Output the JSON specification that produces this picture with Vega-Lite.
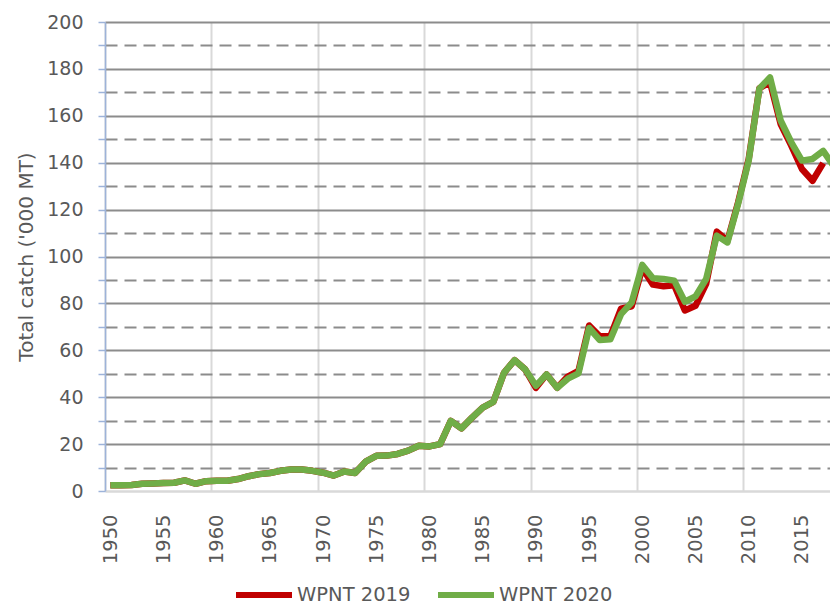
{
  "$schema": "https://vega.github.io/schema/vega-lite/v6.json",
  "autosize": "none",
  "width": 725,
  "height": 469,
  "padding": {"left": 105, "top": 22, "right": 0, "bottom": 114},
  "background": "white",
  "config": {
    "font": "DejaVu Sans",
    "view": {"stroke": null}
  },
  "data": {
    "values": [
      {"year": 1950, "series": "WPNT 2019", "catch": 2.5},
      {"year": 1951, "series": "WPNT 2019", "catch": 2.5},
      {"year": 1952, "series": "WPNT 2019", "catch": 2.6},
      {"year": 1953, "series": "WPNT 2019", "catch": 3.1},
      {"year": 1954, "series": "WPNT 2019", "catch": 3.2},
      {"year": 1955, "series": "WPNT 2019", "catch": 3.4},
      {"year": 1956, "series": "WPNT 2019", "catch": 3.5},
      {"year": 1957, "series": "WPNT 2019", "catch": 4.5},
      {"year": 1958, "series": "WPNT 2019", "catch": 3.1},
      {"year": 1959, "series": "WPNT 2019", "catch": 4.2},
      {"year": 1960, "series": "WPNT 2019", "catch": 4.4},
      {"year": 1961, "series": "WPNT 2019", "catch": 4.4},
      {"year": 1962, "series": "WPNT 2019", "catch": 5.1},
      {"year": 1963, "series": "WPNT 2019", "catch": 6.3},
      {"year": 1964, "series": "WPNT 2019", "catch": 7.2},
      {"year": 1965, "series": "WPNT 2019", "catch": 7.7},
      {"year": 1966, "series": "WPNT 2019", "catch": 8.6},
      {"year": 1967, "series": "WPNT 2019", "catch": 9.2},
      {"year": 1968, "series": "WPNT 2019", "catch": 9.2},
      {"year": 1969, "series": "WPNT 2019", "catch": 8.6},
      {"year": 1970, "series": "WPNT 2019", "catch": 7.8},
      {"year": 1971, "series": "WPNT 2019", "catch": 6.6},
      {"year": 1972, "series": "WPNT 2019", "catch": 8.3},
      {"year": 1973, "series": "WPNT 2019", "catch": 7.7},
      {"year": 1974, "series": "WPNT 2019", "catch": 12.5},
      {"year": 1975, "series": "WPNT 2019", "catch": 15.0},
      {"year": 1976, "series": "WPNT 2019", "catch": 15.1},
      {"year": 1977, "series": "WPNT 2019", "catch": 15.8},
      {"year": 1978, "series": "WPNT 2019", "catch": 17.2},
      {"year": 1979, "series": "WPNT 2019", "catch": 19.3},
      {"year": 1980, "series": "WPNT 2019", "catch": 19.0},
      {"year": 1981, "series": "WPNT 2019", "catch": 20.0},
      {"year": 1982, "series": "WPNT 2019", "catch": 29.9},
      {"year": 1983, "series": "WPNT 2019", "catch": 26.7},
      {"year": 1984, "series": "WPNT 2019", "catch": 31.3},
      {"year": 1985, "series": "WPNT 2019", "catch": 35.6},
      {"year": 1986, "series": "WPNT 2019", "catch": 38.0},
      {"year": 1987, "series": "WPNT 2019", "catch": 50.4},
      {"year": 1988, "series": "WPNT 2019", "catch": 55.8},
      {"year": 1989, "series": "WPNT 2019", "catch": 51.8},
      {"year": 1990, "series": "WPNT 2019", "catch": 44.0},
      {"year": 1991, "series": "WPNT 2019", "catch": 49.7},
      {"year": 1992, "series": "WPNT 2019", "catch": 44.0},
      {"year": 1993, "series": "WPNT 2019", "catch": 48.8},
      {"year": 1994, "series": "WPNT 2019", "catch": 51.2},
      {"year": 1995, "series": "WPNT 2019", "catch": 70.6},
      {"year": 1996, "series": "WPNT 2019", "catch": 66.0},
      {"year": 1997, "series": "WPNT 2019", "catch": 66.0},
      {"year": 1998, "series": "WPNT 2019", "catch": 77.8},
      {"year": 1999, "series": "WPNT 2019", "catch": 78.8},
      {"year": 2000, "series": "WPNT 2019", "catch": 95.0},
      {"year": 2001, "series": "WPNT 2019", "catch": 88.0},
      {"year": 2002, "series": "WPNT 2019", "catch": 87.3},
      {"year": 2003, "series": "WPNT 2019", "catch": 87.7},
      {"year": 2004, "series": "WPNT 2019", "catch": 77.0},
      {"year": 2005, "series": "WPNT 2019", "catch": 79.0},
      {"year": 2006, "series": "WPNT 2019", "catch": 88.3},
      {"year": 2007, "series": "WPNT 2019", "catch": 110.6},
      {"year": 2008, "series": "WPNT 2019", "catch": 106.7},
      {"year": 2009, "series": "WPNT 2019", "catch": 123.0},
      {"year": 2010, "series": "WPNT 2019", "catch": 141.6},
      {"year": 2011, "series": "WPNT 2019", "catch": 171.7},
      {"year": 2012, "series": "WPNT 2019", "catch": 174.3},
      {"year": 2013, "series": "WPNT 2019", "catch": 156.5},
      {"year": 2014, "series": "WPNT 2019", "catch": 147.3},
      {"year": 2015, "series": "WPNT 2019", "catch": 137.3},
      {"year": 2016, "series": "WPNT 2019", "catch": 132.3},
      {"year": 2017, "series": "WPNT 2019", "catch": 139.8},
      {"year": 1950, "series": "WPNT 2020", "catch": 2.5},
      {"year": 1951, "series": "WPNT 2020", "catch": 2.5},
      {"year": 1952, "series": "WPNT 2020", "catch": 2.6},
      {"year": 1953, "series": "WPNT 2020", "catch": 3.1},
      {"year": 1954, "series": "WPNT 2020", "catch": 3.2},
      {"year": 1955, "series": "WPNT 2020", "catch": 3.4},
      {"year": 1956, "series": "WPNT 2020", "catch": 3.5},
      {"year": 1957, "series": "WPNT 2020", "catch": 4.5},
      {"year": 1958, "series": "WPNT 2020", "catch": 3.1},
      {"year": 1959, "series": "WPNT 2020", "catch": 4.2},
      {"year": 1960, "series": "WPNT 2020", "catch": 4.4},
      {"year": 1961, "series": "WPNT 2020", "catch": 4.4},
      {"year": 1962, "series": "WPNT 2020", "catch": 5.1},
      {"year": 1963, "series": "WPNT 2020", "catch": 6.3},
      {"year": 1964, "series": "WPNT 2020", "catch": 7.2},
      {"year": 1965, "series": "WPNT 2020", "catch": 7.7},
      {"year": 1966, "series": "WPNT 2020", "catch": 8.6},
      {"year": 1967, "series": "WPNT 2020", "catch": 9.2},
      {"year": 1968, "series": "WPNT 2020", "catch": 9.2},
      {"year": 1969, "series": "WPNT 2020", "catch": 8.6},
      {"year": 1970, "series": "WPNT 2020", "catch": 7.8},
      {"year": 1971, "series": "WPNT 2020", "catch": 6.6},
      {"year": 1972, "series": "WPNT 2020", "catch": 8.3},
      {"year": 1973, "series": "WPNT 2020", "catch": 7.7},
      {"year": 1974, "series": "WPNT 2020", "catch": 12.5},
      {"year": 1975, "series": "WPNT 2020", "catch": 15.0},
      {"year": 1976, "series": "WPNT 2020", "catch": 15.1},
      {"year": 1977, "series": "WPNT 2020", "catch": 15.8},
      {"year": 1978, "series": "WPNT 2020", "catch": 17.2},
      {"year": 1979, "series": "WPNT 2020", "catch": 19.3},
      {"year": 1980, "series": "WPNT 2020", "catch": 19.0},
      {"year": 1981, "series": "WPNT 2020", "catch": 20.0},
      {"year": 1982, "series": "WPNT 2020", "catch": 29.9},
      {"year": 1983, "series": "WPNT 2020", "catch": 26.7},
      {"year": 1984, "series": "WPNT 2020", "catch": 31.3},
      {"year": 1985, "series": "WPNT 2020", "catch": 35.6},
      {"year": 1986, "series": "WPNT 2020", "catch": 38.0},
      {"year": 1987, "series": "WPNT 2020", "catch": 50.4},
      {"year": 1988, "series": "WPNT 2020", "catch": 55.8},
      {"year": 1989, "series": "WPNT 2020", "catch": 51.8},
      {"year": 1990, "series": "WPNT 2020", "catch": 44.9},
      {"year": 1991, "series": "WPNT 2020", "catch": 49.7},
      {"year": 1992, "series": "WPNT 2020", "catch": 44.0},
      {"year": 1993, "series": "WPNT 2020", "catch": 47.9},
      {"year": 1994, "series": "WPNT 2020", "catch": 50.2},
      {"year": 1995, "series": "WPNT 2020", "catch": 69.5},
      {"year": 1996, "series": "WPNT 2020", "catch": 64.4},
      {"year": 1997, "series": "WPNT 2020", "catch": 64.7},
      {"year": 1998, "series": "WPNT 2020", "catch": 75.4},
      {"year": 1999, "series": "WPNT 2020", "catch": 80.4},
      {"year": 2000, "series": "WPNT 2020", "catch": 96.4},
      {"year": 2001, "series": "WPNT 2020", "catch": 90.7},
      {"year": 2002, "series": "WPNT 2020", "catch": 90.4},
      {"year": 2003, "series": "WPNT 2020", "catch": 89.7},
      {"year": 2004, "series": "WPNT 2020", "catch": 80.7},
      {"year": 2005, "series": "WPNT 2020", "catch": 83.0},
      {"year": 2006, "series": "WPNT 2020", "catch": 90.4},
      {"year": 2007, "series": "WPNT 2020", "catch": 108.9},
      {"year": 2008, "series": "WPNT 2020", "catch": 106.0},
      {"year": 2009, "series": "WPNT 2020", "catch": 122.4},
      {"year": 2010, "series": "WPNT 2020", "catch": 140.9},
      {"year": 2011, "series": "WPNT 2020", "catch": 171.5},
      {"year": 2012, "series": "WPNT 2020", "catch": 176.4},
      {"year": 2013, "series": "WPNT 2020", "catch": 158.0},
      {"year": 2014, "series": "WPNT 2020", "catch": 148.7},
      {"year": 2015, "series": "WPNT 2020", "catch": 140.9},
      {"year": 2016, "series": "WPNT 2020", "catch": 141.6},
      {"year": 2017, "series": "WPNT 2020", "catch": 145.0},
      {"year": 2018, "series": "WPNT 2020", "catch": 138.5}
    ]
  },
  "mark": {"type": "line", "strokeWidth": 6.5, "strokeJoin": "round", "clip": true},
  "encoding": {
    "x": {
      "field": "year",
      "type": "quantitative",
      "scale": {"domain": [1949.5, 2017.64], "nice": false, "zero": false},
      "axis": {
        "title": null,
        "values": [1950, 1955, 1960, 1965, 1970, 1975, 1980, 1985, 1990, 1995, 2000, 2005, 2010, 2015],
        "format": "d",
        "labelAngle": -90,
        "labelAlign": "right",
        "labelBaseline": "middle",
        "labelFontSize": 19.5,
        "labelColor": "#595959",
        "labelPadding": 23,
        "ticks": false,
        "tickSize": 0,
        "tickOffset": -5.32,
        "labelOffset": 5.32,
        "labelOverlap": false,
        "labelFlush": false,
        "domainColor": "#D9D9D9",
        "domainWidth": 2.5,
        "grid": true,
        "gridColor": "#D9D9D9",
        "gridWidth": 2,
        "gridOpacity": {"condition": {"test": "datum.value % 10 === 0", "value": 1}, "value": 0}
      }
    },
    "y": {
      "field": "catch",
      "type": "quantitative",
      "scale": {"domain": [0, 200], "nice": false},
      "axis": {
        "title": "Total catch ('000 MT)",
        "titleFontSize": 20,
        "titleFontWeight": "normal",
        "titleColor": "#595959",
        "titlePadding": 10,
        "values": [0, 10, 20, 30, 40, 50, 60, 70, 80, 90, 100, 110, 120, 130, 140, 150, 160, 170, 180, 190, 200],
        "labelExpr": "datum.value % 20 === 0 ? datum.label : ''",
        "labelFontSize": 19,
        "labelColor": "#595959",
        "labelPadding": 15,
        "tickSize": 7,
        "tickColor": "#9DB3D9",
        "tickWidth": 1.5,
        "domainColor": "#9DB3D9",
        "domainWidth": 1.5,
        "grid": true,
        "gridColor": "#8C8C8C",
        "gridWidth": 2,
        "gridDash": {"condition": {"test": "datum.value % 20 !== 0", "value": [12, 7]}, "value": []},
        "gridOpacity": {"condition": {"test": "datum.value === 0", "value": 0}, "value": 1}
      }
    },
    "color": {
      "field": "series",
      "type": "nominal",
      "scale": {"domain": ["WPNT 2019", "WPNT 2020"], "range": ["#C00000", "#70AD47"]},
      "legend": {
        "title": null,
        "orient": "none",
        "direction": "horizontal",
        "legendX": 128,
        "legendY": 542,
        "padding": 0,
        "symbolType": "stroke",
        "symbolSize": 3136,
        "symbolStrokeWidth": 6,
        "labelFontSize": 19.5,
        "labelColor": "#595959",
        "labelOffset": 2,
        "columnPadding": 15
      }
    }
  }
}
